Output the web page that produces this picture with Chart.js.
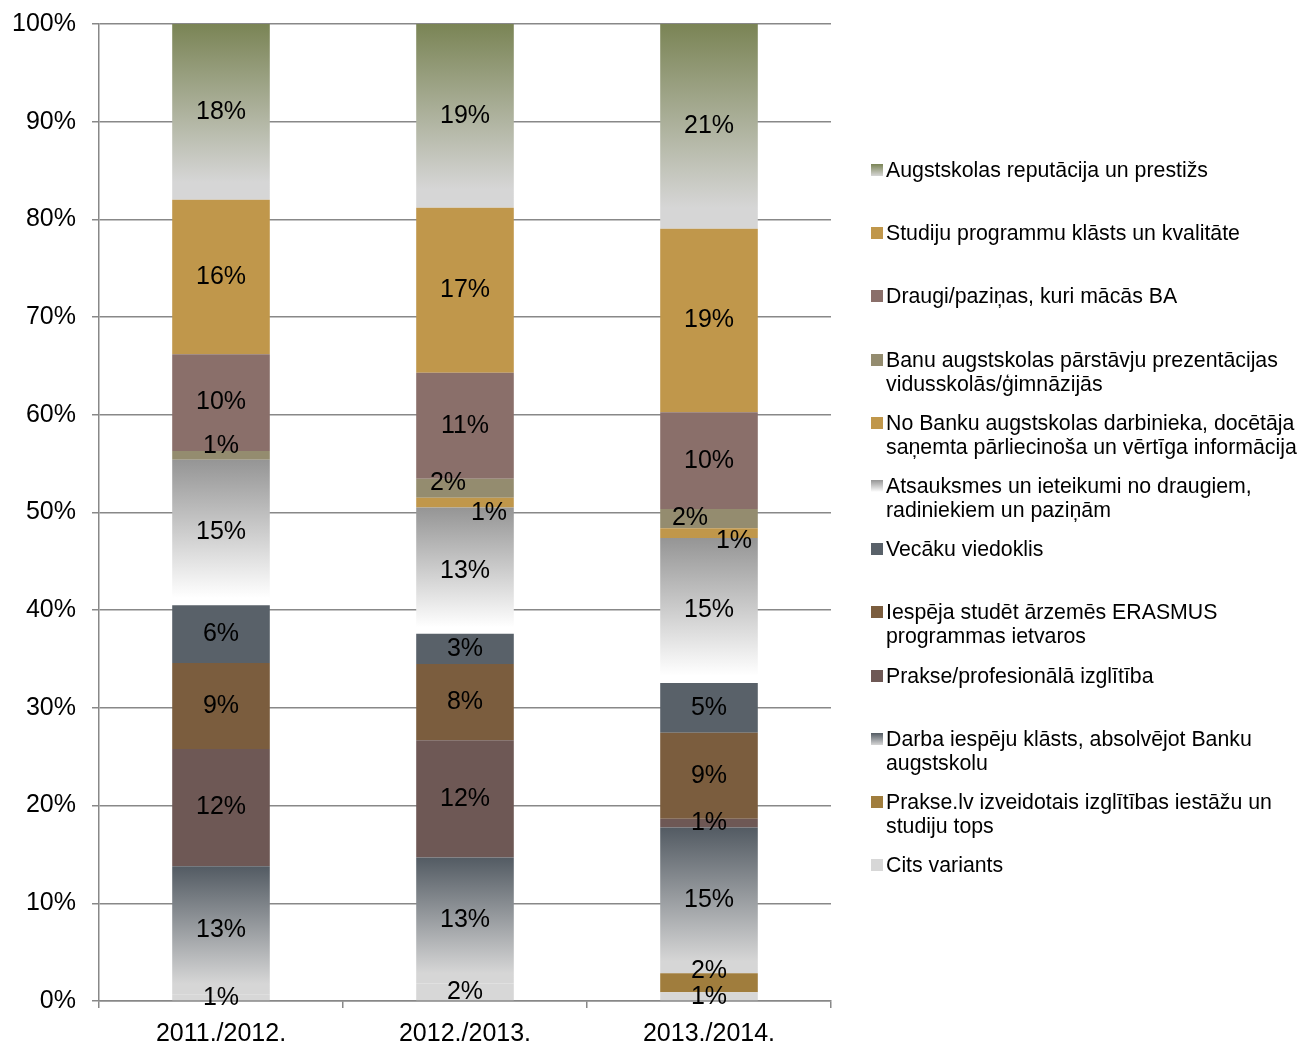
<!DOCTYPE html>
<html><head><meta charset="utf-8">
<script src="https://cdn.jsdelivr.net/npm/chart.js@4"></script>
<style>
html,body{margin:0;padding:0;background:#fff;}
#wrap{position:relative;width:1300px;height:1044px;overflow:hidden;}
#c{position:absolute;left:0;top:0;}
#legend{position:absolute;left:0;top:0;font-family:"Liberation Sans",Arial,sans-serif;font-size:21.3px;color:#000;}
.item{position:absolute;left:871px;}
.mk{position:absolute;left:0;width:12px;height:12px;}
.tx{position:absolute;left:15px;line-height:24px;white-space:nowrap;}
</style></head>
<body>
<div id="wrap"><canvas id="c" width="1300" height="1044"></canvas><div id="legend"></div></div>
<script>
// ---- data ----
const categories = ["2011./2012.", "2012./2013.", "2013./2014."];
const yTicks = [0,10,20,30,40,50,60,70,80,90,100];

// series in stacking order, bottom to top (values in %)
const citsVariants      = [0.7, 1.8, 0.9];
const prakseLvTops      = [0,   0,   1.95];
const darbaIespejas     = [13.1,12.9,14.9];
const prakseProf        = [12.0,12.0,0.9];
const erasmus           = [8.8, 7.8, 8.8];
const vecakuViedoklis   = [5.9, 3.1, 5.1];
const atsauksmes        = [14.9,12.9,14.85];
const noBankuDarbinieka = [0,   1.0, 1.0];
const banuPrezentacijas = [0.9, 1.95,1.95];
const draugiPazinas     = [9.9, 10.85,9.9];
const studijuProgrammas = [15.8,16.9,18.8];
const reputacija        = [18.0,18.8,20.95];

const seriesNames = [
  ["Cits variants"],
  ["Prakse.lv izveidotais izglītības iestāžu un","studiju tops"],
  ["Darba iespēju klāsts, absolvējot Banku","augstskolu"],
  ["Prakse/profesionālā izglītība"],
  ["Iespēja studēt ārzemēs ERASMUS","programmas ietvaros"],
  ["Vecāku viedoklis"],
  ["Atsauksmes un ieteikumi no draugiem,","radiniekiem un paziņām"],
  ["No Banku augstskolas darbinieka, docētāja","saņemta pārliecinoša un vērtīga informācija"],
  ["Banu augstskolas pārstāvju prezentācijas","vidusskolās/ģimnāzijās"],
  ["Draugi/paziņas, kuri mācās BA"],
  ["Studiju programmu klāsts un kvalitāte"],
  ["Augstskolas reputācija un prestižs"]
];
const seriesValues = [citsVariants, prakseLvTops, darbaIespejas, prakseProf, erasmus, vecakuViedoklis,
  atsauksmes, noBankuDarbinieka, banuPrezentacijas, draugiPazinas, studijuProgrammas, reputacija];

// ---- styles ----
const fills = [
  {c:"#d7d7d7"},
  {c:"#a07d3d"},
  {g:["#535b63","#d6d6d6"], end:0.92},
  {c:"#6e5855"},
  {c:"#7b5d3e"},
  {c:"#596169"},
  {g:["#959595","#ffffff"], end:0.95},
  {c:"#c0974b"},
  {c:"#948c6f"},
  {c:"#8a6f6a"},
  {c:"#c0974b"},
  {g:["#7a8455","#d6d6d6"], end:0.9}
];
// label nudges (px) for crowded small segments: "dataset-index": [dx, dy]
const labelNudge = {"8-0":[0,-9],"8-1":[-17,-5],"7-1":[24,10],"8-2":[-19,0],"7-2":[25,8],"1-2":[0,-12],"0-0":[0,1],"0-2":[0,1]};

const FONT = '"Liberation Sans", Arial, sans-serif';
const GRID = "#888888";

function bg(i){
  return (ctx) => {
    const f = fills[i];
    if (!f.g) return f.c;
    const chart = ctx.chart;
    if (ctx.type !== 'data' || !chart.chartArea || !chart.scales.y) return f.g[0];
    const j = ctx.dataIndex;
    let base = 0;
    for (let k = 0; k < i; k++) base += chart.data.datasets[k].data[j];
    const top = base + chart.data.datasets[i].data[j];
    const y0 = chart.scales.y.getPixelForValue(top);
    const y1 = chart.scales.y.getPixelForValue(base);
    const gr = chart.ctx.createLinearGradient(0, y0, 0, y1);
    gr.addColorStop(0, f.g[0]);
    gr.addColorStop(f.end, f.g[1]);
    gr.addColorStop(1, f.g[1]);
    return gr;
  };
}

const datasets = seriesValues.map((vals, i) => ({
  label: seriesNames[i].join(" "),
  data: vals,
  backgroundColor: bg(i),
  borderWidth: 0,
  barPercentage: 0.4,
  categoryPercentage: 1.0
}));

const labelPlugin = {
  id: 'segLabels',
  afterDatasetsDraw(chart) {
    const c = chart.ctx;
    c.save();
    c.font = '25px ' + FONT;
    c.fillStyle = '#000';
    c.textAlign = 'center';
    c.textBaseline = 'middle';
    chart.data.datasets.forEach((ds, i) => {
      const meta = chart.getDatasetMeta(i);
      meta.data.forEach((el, j) => {
        const v = ds.data[j];
        if (!v) return;
        const p = el.getProps(['x','y','base'], true);
        const n = labelNudge[i + '-' + j] || [0,0];
        c.fillText(Math.round(v) + '%', p.x + n[0], (p.y + p.base) / 2 + n[1]);
      });
    });
    c.restore();
  }
};

const chart = new Chart(document.getElementById('c'), {
  type: 'bar',
  data: { labels: categories, datasets },
  options: {
    responsive: false,
    animation: false,
    devicePixelRatio: 1,
    layout: { padding: { top: 24, right: 469, left: 0, bottom: 0 } },
    plugins: { legend: { display: false }, tooltip: { enabled: false } },
    scales: {
      x: {
        stacked: true,
        grid: { display: true, drawOnChartArea: false, color: GRID, lineWidth: 1.5, tickLength: 7, offset: true },
        border: { color: GRID, width: 1.5 },
        ticks: { font: { family: FONT, size: 25 }, color: '#000', padding: 11 },
        afterFit: (s) => { s.height = 43; s.paddingLeft = 0; s.paddingRight = 0; }
      },
      y: {
        stacked: true,
        min: 0, max: 100,
        afterBuildTicks: (s) => { s.ticks = yTicks.map(v => ({value: v})); },
        grid: { color: GRID, lineWidth: 1.5, tickLength: 7 },
        border: { color: GRID, width: 1.5 },
        ticks: { font: { family: FONT, size: 25 }, color: '#000', padding: 16, callback: (v) => v + '%' },
        afterFit: (s) => { s.width = 99; s.paddingTop = 0; s.paddingBottom = 0; }
      }
    }
  },
  plugins: [labelPlugin]
});

// ---- legend (reverse order, as in reference) ----
const leg = document.getElementById('legend');
const order = seriesNames.map((_, i) => i).reverse();
order.forEach((i, k) => {
  const cy = 170 + 63.2 * k;
  const item = document.createElement('div');
  item.className = 'item';
  item.style.top = '0px';
  const mk = document.createElement('div');
  mk.className = 'mk';
  mk.style.top = (cy - 6) + 'px';
  const f = fills[i];
  mk.style.background = f.g ? `linear-gradient(${f.g[0]}, ${f.g[1]})` : f.c;
  const tx = document.createElement('div');
  tx.className = 'tx';
  tx.style.top = (cy - 12) + 'px';
  tx.innerHTML = seriesNames[i].map(s => s.replace(/&/g,'&amp;').replace(/</g,'&lt;')).join('<br>');
  item.appendChild(mk); item.appendChild(tx);
  leg.appendChild(item);
});
</script>
</body></html>
